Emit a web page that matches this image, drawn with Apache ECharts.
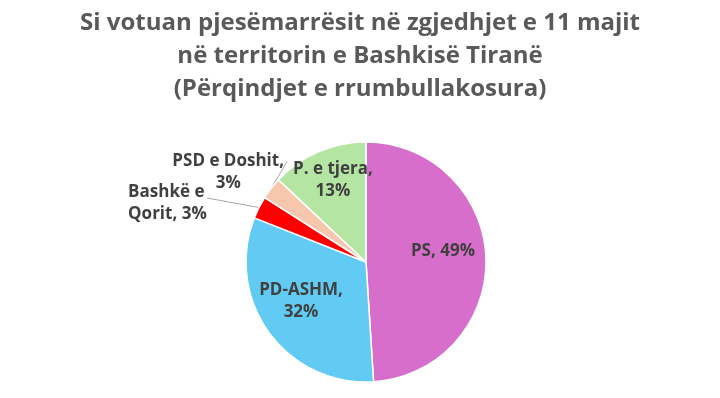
<!DOCTYPE html>
<html>
<head>
<meta charset="utf-8">
<script src="https://cdn.jsdelivr.net/npm/echarts@6/dist/echarts.min.js"></script>
<style>
  html, body { margin: 0; padding: 0; background: #fff; }
  #main { width: 720px; height: 398px; }
</style>
</head>
<body>
<div id="main"></div>
<script>
// parti dhe perqindjet (te rrumbullakosura)
var partite = ['PS', 'PD-ASHM', 'Bashkë e Qorit', 'PSD e Doshit', 'P. e tjera'];
var perqindjet = [49, 32, 3, 3, 13];
var etiketat = ['PS, 49%', 'PD-ASHM,\n32%', 'Bashkë e\nQorit, 3%', 'PSD e Doshit,\n3%', 'P. e tjera,\n13%'];
var ngjyrat = ['#D86ECC', '#61CBF4', '#FF0000', '#F6C6AD', '#B4E5A2'];

// zhvendosja e etiketave (brenda: nga pozicioni i paracaktuar, jashte: nga pika e vijes)
var zhvendosjet = [
    { inside: true, dx: 14, dy: -9 },
    { inside: true, dx: -14, dy: 2 },
    { inside: false, dx: -131, dy: -4, align: 'left', lx: -52, ly: -9.5 },
    { inside: false, dx: -43, dy: -16.5, align: 'center', lx: 16, ly: -27 },
    { inside: true, dx: -8, dy: -24 }
];

var myChart = echarts.init(document.getElementById('main'));

var data = [];
for (var i = 0; i < partite.length; i++) {
    var z = zhvendosjet[i];
    data.push({
        name: partite[i],
        value: perqindjet[i],
        itemStyle: { color: ngjyrat[i] },
        label: { position: z.inside ? 'inside' : 'outside', formatter: etiketat[i] },
        labelLine: { show: !z.inside }
    });
}

var option = {
    animation: false,
    title: {
        text: 'Si votuan pjesëmarrësit në zgjedhjet e 11 majit\nnë territorin e Bashkisë Tiranë\n(Përqindjet e rrumbullakosura)',
        left: 'center',
        top: 7,
        padding: [0, 0, 0, 10],
        textStyle: {
            fontFamily: 'Open Sans',
            fontWeight: 'bold',
            fontSize: 24,
            lineHeight: 33,
            color: '#595959'
        }
    },
    series: [
        {
            type: 'pie',
            center: [366, 262],
            radius: [0, 120],
            startAngle: 90,
            clockwise: true,
            avoidLabelOverlap: false,
            itemStyle: { borderColor: '#fff', borderWidth: 1.5 },
            label: {
                fontFamily: 'Open Sans',
                fontWeight: 'bold',
                fontSize: 17,
                lineHeight: 22,
                color: '#404040'
            },
            labelLine: {
                length: 10,
                length2: 10,
                lineStyle: { color: '#A6A6A6', width: 1 }
            },
            labelLayout: function (params) {
                var z = zhvendosjet[params.dataIndex];
                var r = params.labelRect;
                if (z.inside) {
                    return {
                        x: r.x + r.width / 2 + z.dx,
                        y: r.y + r.height / 2 + z.dy,
                        align: 'center',
                        verticalAlign: 'middle'
                    };
                }
                var a = params.labelLinePoints[0];
                return {
                    x: a[0] + z.dx,
                    y: a[1] + z.dy,
                    align: z.align,
                    verticalAlign: 'middle',
                    labelLinePoints: [
                        [a[0], a[1]],
                        [a[0] + z.lx / 2, a[1] + z.ly / 2],
                        [a[0] + z.lx, a[1] + z.ly]
                    ]
                };
            },
            data: data
        }
    ]
};

myChart.setOption(option);
</script>
</body>
</html>
